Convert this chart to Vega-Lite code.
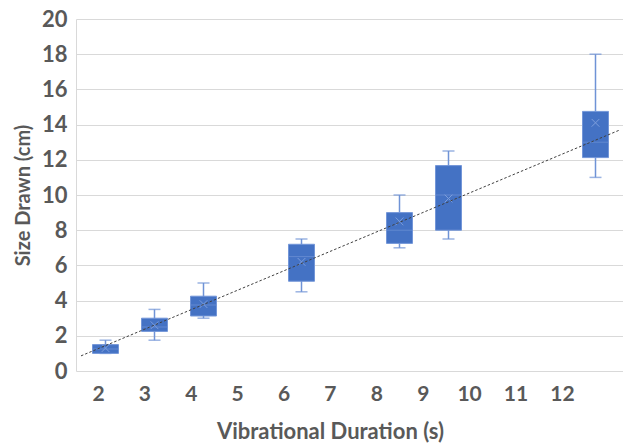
{
  "$schema": "https://vega.github.io/schema/vega-lite/v6.json",
  "autosize": {"type": "none"},
  "padding": {"left": 76, "top": 19, "right": 0, "bottom": 72},
  "width": 549,
  "height": 352,
  "background": "white",
  "config": {
    "view": {"stroke": null},
    "font": "Lato",
    "axis": {"labelFont": "Lato", "titleFont": "Lato", "labelColor": "#595959", "titleColor": "#595959", "labelFontWeight": "bold", "titleFontWeight": "bold", "labelOverlap": false},
    "axisY": {"tickCount": 12, "grid": true, "gridColor": "#d9d9d9", "gridWidth": 1, "domain": true, "domainColor": "#d9d9d9", "ticks": false, "labelFontSize": 22, "labelPadding": 9, "titleFontSize": 20, "titleX": -53, "titleY": 176, "titleBaseline": "middle", "titleAlign": "center", "titleAngle": -90}
  },
  "datasets": {
    "boxes": [
      {"duration": 2, "min": 1.0, "q1": 1.0, "median": 1.25, "q3": 1.5, "max": 1.75, "mean": 1.3},
      {"duration": 3, "min": 1.75, "q1": 2.25, "median": 2.5, "q3": 3.0, "max": 3.5, "mean": 2.6},
      {"duration": 4, "min": 3.0, "q1": 3.125, "median": 3.75, "q3": 4.25, "max": 5.0, "mean": 3.8},
      {"duration": 6, "min": 4.5, "q1": 5.1, "median": 6.5, "q3": 7.2, "max": 7.5, "mean": 6.2},
      {"duration": 8, "min": 7.0, "q1": 7.25, "median": 8.0, "q3": 9.0, "max": 10.0, "mean": 8.5},
      {"duration": 9, "min": 7.5, "q1": 8.0, "median": 10.0, "q3": 11.67, "max": 12.5, "mean": 9.8},
      {"duration": 12, "min": 11.0, "q1": 12.125, "median": 13.0, "q3": 14.75, "max": 18.0, "mean": 14.1}
    ],
    "trend": [
      {"duration": 1.5, "size": 0.86},
      {"duration": 12.5, "size": 13.7}
    ],
    "ticks": [
      {"duration": 2}, {"duration": 12}
    ]
  },
  "layer": [
    {
      "data": {"name": "boxes"},
      "encoding": {
        "x": {"field": "duration", "type": "quantitative", "scale": {"domain": [1.5, 12.5], "nice": false, "zero": false}, "axis": null}
      },
      "layer": [
        {
          "mark": {"type": "rule", "color": "#6f93d6", "strokeWidth": 1.5},
          "encoding": {
            "y": {"field": "min", "type": "quantitative", "scale": {"domain": [0, 20], "nice": false}, "axis": {"values": [0, 2, 4, 6, 8, 10, 12, 14, 16, 18, 20], "tickCount": 12, "title": "Size Drawn (cm)"}},
            "y2": {"field": "max"}
          }
        },
        {
          "mark": {"type": "tick", "color": "#6f93d6", "size": 12, "thickness": 1.5, "orient": "horizontal"},
          "encoding": {"y": {"field": "max", "type": "quantitative", "axis": {"values": [0, 2, 4, 6, 8, 10, 12, 14, 16, 18, 20], "tickCount": 12, "title": "Size Drawn (cm)"}}}
        },
        {
          "mark": {"type": "tick", "color": "#6f93d6", "size": 12, "thickness": 1.5, "orient": "horizontal"},
          "encoding": {"y": {"field": "min", "type": "quantitative", "axis": {"values": [0, 2, 4, 6, 8, 10, 12, 14, 16, 18, 20], "tickCount": 12, "title": "Size Drawn (cm)"}}}
        },
        {
          "mark": {"type": "bar", "width": 26, "fill": "#4472c4", "stroke": "#7396d8", "strokeWidth": 1},
          "encoding": {
            "y": {"field": "q1", "type": "quantitative", "axis": {"values": [0, 2, 4, 6, 8, 10, 12, 14, 16, 18, 20], "tickCount": 12, "title": "Size Drawn (cm)"}},
            "y2": {"field": "q3"}
          }
        },
        {
          "mark": {"type": "tick", "color": "#6f93d6", "size": 26, "thickness": 1, "orient": "horizontal"},
          "encoding": {"y": {"field": "median", "type": "quantitative", "axis": {"values": [0, 2, 4, 6, 8, 10, 12, 14, 16, 18, 20], "tickCount": 12, "title": "Size Drawn (cm)"}}}
        },
        {
          "mark": {"type": "point", "shape": "M-1,-1L1,1M-1,1L1,-1", "filled": false, "stroke": "#7d9edc", "strokeWidth": 1, "size": 60, "opacity": 1},
          "encoding": {"y": {"field": "mean", "type": "quantitative", "axis": {"values": [0, 2, 4, 6, 8, 10, 12, 14, 16, 18, 20], "tickCount": 12, "title": "Size Drawn (cm)"}}}
        },
        {
          "data": {"name": "trend"},
          "mark": {"type": "line", "color": "#404040", "strokeWidth": 1, "strokeDash": [2.5, 2]},
          "encoding": {"y": {"field": "size", "type": "quantitative", "axis": {"values": [0, 2, 4, 6, 8, 10, 12, 14, 16, 18, 20], "tickCount": 12, "title": "Size Drawn (cm)"}}}
        }
      ]
    },
    {
      "data": {"name": "ticks"},
      "mark": {"type": "point", "opacity": 0},
      "encoding": {
        "x": {"field": "duration", "type": "quantitative", "scale": {"domain": [1.526, 13.36], "nice": false, "zero": false}, "axis": {"orient": "bottom", "values": [2, 3, 4, 5, 6, 7, 8, 9, 10, 11, 12], "tickCount": 12, "grid": false, "domain": false, "ticks": false, "labelFontSize": 21, "labelPadding": 12, "title": "Vibrational Duration (s)", "titleFontSize": 22, "titleX": 254, "titleY": 60, "titleBaseline": "middle", "titleAlign": "center"}}
      }
    }
  ],
  "resolve": {"scale": {"x": "independent"}, "axis": {"x": "independent"}}
}
